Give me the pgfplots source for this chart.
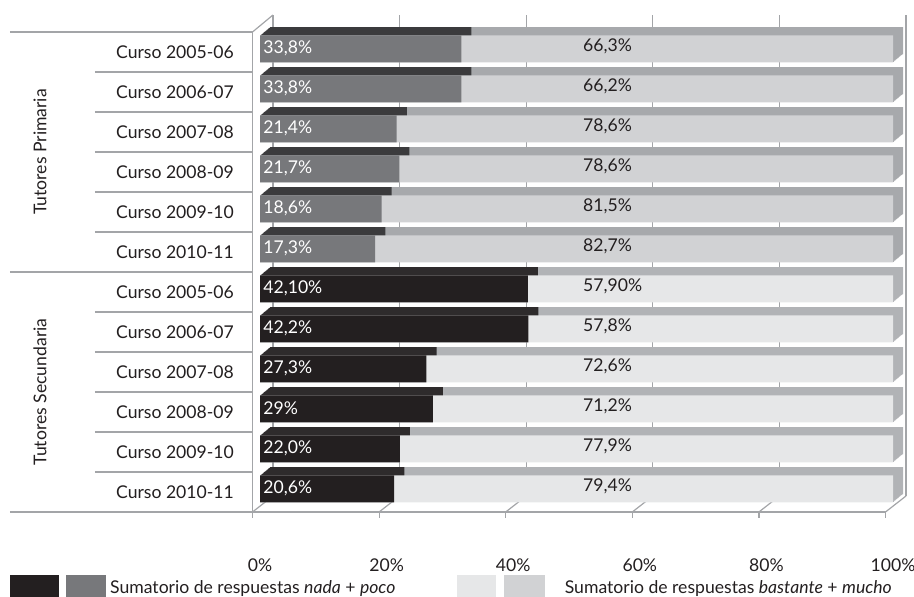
\documentclass[border=0pt]{standalone}
\usepackage{fontspec}
\setmainfont{Lato}
\usepackage{pgfplots}
\pgfplotsset{compat=1.18}
\usepackage{pgfplotstable}

\definecolor{pDf}{HTML}{77787B}
\definecolor{pDt}{HTML}{3B3B3D}
\definecolor{pLf}{HTML}{D1D2D4}
\definecolor{pLt}{HTML}{A7A9AC}
\definecolor{sDf}{HTML}{231F20}
\definecolor{sDt}{HTML}{2E2B2C}
\definecolor{sLf}{HTML}{E6E7E8}
\definecolor{sLt}{HTML}{B1B3B6}
\definecolor{ln}{HTML}{A3A5A8}
\definecolor{tx}{HTML}{231F20}

% y: row position (11 = top), nada / total: bar lengths (%), lnada / ltot: printed labels
\pgfplotstableread{
y nada total lx0 lx1 lnada ltot
11 31.8 100 0 51 {33,8} {66,3}
10 31.8 100 0 51 {33,8} {66,2}
9 21.6 100 0 51 {21,4} {78,6}
8 22.0 100 0 51 {21,7} {78,6}
7 19.2 100 0 51 {18,6} {81,5}
6 18.2 100 0 51 {17,3} {82,7}
}\prim
\pgfplotstableread{
y nada total lx0 lx1 lnada ltot
5 42.3 100 0 51 {42,10} {57,90}
4 42.4 100 0 51 {42,2} {57,8}
3 26.3 100 0 51 {27,3} {72,6}
2 27.3 100 0 51 {29} {71,2}
1 22.1 100 0 51 {22,0} {77,9}
0 21.2 100 0 51 {20,6} {79,4}
}\secu

\pgfplotsset{
  barbase/.style={forget plot, xbar, bar width=13.5pt, bar shift=0pt, draw=none},
}
\tikzset{lns/.style={ln, line width=0.6pt}}

\begin{document}
\fontsize{8.8pt}{10.5pt}\selectfont
\begin{tikzpicture}
\useasboundingbox (0,0) rectangle (457pt,298.5pt);
\begin{axis}[
  at={(130pt,42.5pt)}, anchor=south west,
  scale only axis, width=316.5pt, height=240pt,
  xmin=0, xmax=100, ymin=-0.5, ymax=11.5,
  clip=false,
  axis line style={draw=none},
  tick style={draw=none},
  xtick={0,20,40,60,80,100},
  xticklabels={0\%,20\%,40\%,60\%,80\%,100\%},
  ytick={0,1,2,3,4,5,6,7,8,9,10,11},
  yticklabels={Curso 2010-11,Curso 2009-10,Curso 2008-09,Curso 2007-08,Curso 2006-07,Curso 2005-06,Curso 2010-11,Curso 2009-10,Curso 2008-09,Curso 2007-08,Curso 2006-07,Curso 2005-06},
  xticklabel style={anchor=center, yshift=-26.5pt, text=tx},
  yticklabel style={anchor=center, xshift=-42.5pt, text=tx},
  legend style={at={(-0.395,-0.168)}, anchor=west, draw=none, fill=none,
    inner sep=0pt, legend columns=2, text=tx,
    /tikz/every even column/.append style={column sep=29pt}},
  legend cell align=left,
]
% back wall grid, floor diagonals, ticks
\pgfplotsinvokeforeach{0,20,40,60,80,100}{
  \draw[lns] ([xshift=6.5pt,yshift=8pt]axis cs:#1,-0.5) -- ([xshift=6.5pt,yshift=8.5pt]axis cs:#1,11.5);
  \draw[lns] ([xshift=-3.75pt]axis cs:#1,-0.5) -- ([xshift=6.5pt,yshift=8pt]axis cs:#1,-0.5);
  \draw[lns] ([xshift=-3.75pt]axis cs:#1,-0.5) -- ([xshift=-3.75pt,yshift=-3pt]axis cs:#1,-0.5);
}
% depth of the light segments
\pgfplotsinvokeforeach{1,2,3,4,5,6,7,8,9,10,11,12}{
  \addplot[barbase, fill=pLt, xshift={#1*0.42pt}, yshift={1.5pt+#1*0.35pt}] table[x=total,y=y]{\prim};
  \addplot[barbase, fill=sLt, xshift={#1*0.42pt}, yshift={1.5pt+#1*0.35pt}] table[x=total,y=y]{\secu};
}
% depth of the dark segments
\pgfplotsinvokeforeach{1,2,3,4,5,6,7,8,9,10,11,12}{
  \addplot[barbase, fill=pDt, xshift={#1*0.42pt}, yshift={1.5pt+#1*0.35pt}] table[x=nada,y=y]{\prim};
  \addplot[barbase, fill=sDt, xshift={#1*0.42pt}, yshift={1.5pt+#1*0.35pt}] table[x=nada,y=y]{\secu};
}
% front faces
\addplot[barbase, fill=pLf, yshift=1.5pt] table[x=total,y=y]{\prim};
\addplot[barbase, fill=sLf, yshift=1.5pt] table[x=total,y=y]{\secu};
\addplot[barbase, fill=pDf, yshift=1.5pt] table[x=nada,y=y]{\prim};
\addplot[barbase, fill=sDf, yshift=1.5pt] table[x=nada,y=y]{\secu};
% labels
\addplot[forget plot, draw=none, mark=none, nodes near coords={\pgfplotspointmeta\%}, point meta=explicit symbolic,
  nodes near coords style={anchor=west, inner sep=0pt, xshift=1.5pt, yshift=1.8pt, text=white}]
  table[x=lx0, y=y, meta=lnada]{\prim};
\addplot[forget plot, draw=none, mark=none, nodes near coords={\pgfplotspointmeta\%}, point meta=explicit symbolic,
  nodes near coords style={anchor=west, inner sep=0pt, xshift=1.5pt, yshift=1.8pt, text=white}]
  table[x=lx0, y=y, meta=lnada]{\secu};
\addplot[forget plot, draw=none, mark=none, nodes near coords={\pgfplotspointmeta\%}, point meta=explicit symbolic,
  nodes near coords style={anchor=west, inner sep=0pt, yshift=3pt, text=tx}]
  table[x=lx1, y=y, meta=ltot]{\prim};
\addplot[forget plot, draw=none, mark=none, nodes near coords={\pgfplotspointmeta\%}, point meta=explicit symbolic,
  nodes near coords style={anchor=west, inner sep=0pt, yshift=3pt, text=tx}]
  table[x=lx1, y=y, meta=ltot]{\secu};
% left table lines and front frame
\draw[lns] ([xshift=-125pt]axis cs:0,11.5) -- ([xshift=-3.75pt]axis cs:0,11.5);
\draw[lns] ([xshift=-125pt]axis cs:0,5.5) -- ([xshift=-3.75pt]axis cs:0,5.5);
\draw[lns] ([xshift=-125pt]axis cs:0,-0.5) -- ([xshift=-3.75pt]axis cs:100,-0.5);
\pgfplotsinvokeforeach{0.5,1.5,2.5,3.5,4.5,6.5,7.5,8.5,9.5,10.5}{
  \draw[lns] ([xshift=-82.5pt]axis cs:0,#1) -- ([xshift=-3.75pt]axis cs:0,#1);
}
\draw[lns] ([xshift=-3.75pt]axis cs:0,11.5) -- ([xshift=-3.75pt]axis cs:0,-0.5);
\draw[lns] ([xshift=-3.75pt]axis cs:0,11.5) -- ([xshift=6.5pt,yshift=8.5pt]axis cs:0,11.5);
\node[rotate=90, text=tx] at ([xshift=-110pt]axis cs:0,8.5) {Tutores Primaria};
\node[rotate=90, text=tx] at ([xshift=-110pt]axis cs:0,2.5) {Tutores Secundaria};
% legend
\addlegendimage{legend image code/.code={\fill[sDf] (0pt,-11pt) rectangle (24pt,6.5pt); \fill[pDf] (28pt,-11pt) rectangle (47.5pt,6.5pt);}}
\addlegendentry{Sumatorio de respuestas \textit{nada} + \textit{poco}}
\addlegendimage{legend image code/.code={\fill[sLf] (0pt,-11pt) rectangle (19pt,6.5pt); \fill[pLf] (23.5pt,-11pt) rectangle (43.5pt,6.5pt); \path[draw=none,fill=none] (0pt,0pt) -- (51.5pt,0pt);}}
\addlegendentry{Sumatorio de respuestas \textit{bastante} + \textit{mucho}}
\end{axis}
\end{tikzpicture}
\end{document}
